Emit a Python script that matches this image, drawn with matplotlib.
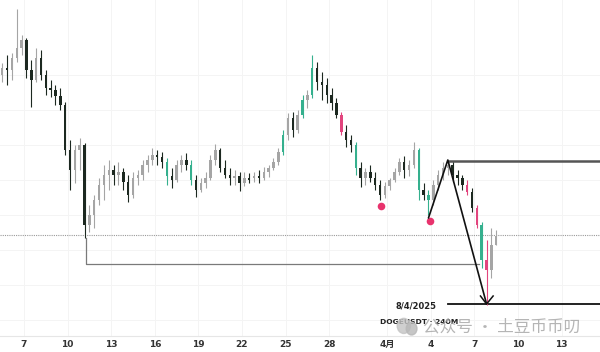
import numpy as np
import pandas as pd
import matplotlib
matplotlib.use("Agg")
import matplotlib.pyplot as plt
import matplotlib.dates as mdates
from matplotlib.patches import Ellipse

plt.rcParams['font.family'] = ['DejaVu Sans', 'Noto Sans CJK SC']

# ---- data: DOGEUSDT candles (8h), price in arbitrary chart units ----
start = "2025-03-05 08:00"
opens = [325, 332, 330, 342, 352, 360, 330, 320, 342, 325,
         312, 310, 304, 295, 250, 230, 250, 255, 175, 185,
         200, 215, 225, 230, 225, 228, 218, 205, 222, 225,
         235, 240, 245, 243, 238, 224, 220, 235, 240, 235,
         220, 210, 217, 222, 240, 250, 232, 225, 222, 224,
         217, 222, 222, 224, 222, 228, 232, 238, 248, 265,
         282, 270, 285, 300, 305, 332, 318, 315, 305, 297,
         285, 268, 260, 255, 232, 222, 228, 222, 215, 205,
         214, 220, 228, 238, 230, 235, 250, 210, 205, 200,
         215, 225, 232, 235, 225, 222, 215, 208, 192, 175,
         140, 130, 155]
highs = [337, 345, 347, 391, 365, 362, 340, 352, 350, 330,
         320, 315, 312, 298, 260, 255, 262, 257, 195, 205,
         222, 235, 240, 235, 238, 232, 225, 228, 230, 240,
         245, 252, 250, 248, 242, 232, 240, 245, 247, 240,
         225, 222, 228, 245, 256, 252, 240, 232, 230, 228,
         228, 227, 228, 230, 233, 235, 242, 252, 270, 287,
         288, 290, 305, 310, 345, 338, 328, 322, 312, 302,
         288, 275, 265, 258, 238, 232, 235, 228, 220, 218,
         222, 232, 242, 244, 240, 258, 252, 217, 210, 220,
         230, 238, 240, 238, 230, 225, 220, 212, 195, 178,
         160, 172, 170]
lows = [318, 315, 320, 338, 345, 322, 293, 318, 320, 305,
        303, 295, 290, 245, 210, 217, 230, 162, 168, 172,
        195, 200, 210, 215, 215, 210, 198, 202, 215, 220,
        228, 235, 235, 232, 215, 212, 218, 228, 230, 215,
        203, 208, 212, 220, 235, 228, 222, 215, 215, 209,
        214, 217, 218, 217, 220, 223, 230, 235, 245, 260,
        263, 267, 282, 292, 302, 310, 300, 297, 290, 282,
        265, 253, 248, 225, 213, 215, 218, 210, 200, 202,
        210, 218, 225, 222, 224, 232, 200, 200, 185, 195,
        210, 220, 225, 218, 215, 210, 205, 188, 172, 132,
        95, 122, 155]
closes = [332, 330, 342, 352, 360, 330, 320, 342, 325, 312,
          310, 304, 295, 250, 230, 250, 255, 175, 185, 200,
          215, 225, 230, 225, 228, 218, 205, 222, 225, 235,
          240, 245, 243, 238, 224, 220, 235, 240, 235, 220,
          210, 217, 222, 240, 250, 232, 225, 222, 224, 217,
          222, 220, 224, 222, 228, 232, 238, 248, 265, 282,
          270, 285, 300, 305, 332, 318, 315, 305, 297, 285,
          268, 260, 255, 232, 222, 228, 222, 215, 205, 214,
          220, 228, 238, 230, 235, 250, 210, 205, 200, 215,
          225, 232, 235, 225, 222, 215, 208, 192, 175, 140,
          130, 155, 164]

tick_dates = ["2025-03-07", "2025-03-10", "2025-03-13", "2025-03-16",
              "2025-03-19", "2025-03-22", "2025-03-25", "2025-03-28",
              "2025-04-01", "2025-04-04", "2025-04-07", "2025-04-10",
              "2025-04-13"]
tick_labels = ["7", "10", "13", "16", "19", "22", "25", "28",
               "4月", "4", "7", "10", "13"]

green_idx = [34, 39, 58, 62, 64, 73, 86, 88, 99]
pink_idx = [70, 96, 98, 100]
dot_idx = [78, 88]          # pink markers under swing lows
support_level = 165         # dotted reference level
range_low_idx = 17          # candle of the March low
trend_idx = [88, 92, 100]   # low -> high -> low

# ---- figure ----
fig = plt.figure(figsize=(6, 3.52), dpi=100)
ax = fig.add_axes([0, 16 / 352, 1, 336 / 352])

times = pd.date_range(start, periods=len(opens), freq="8h")
x = mdates.date2num(times) + 1 / 6
o = np.array(opens, float); h = np.array(highs, float)
l = np.array(lows, float); c = np.array(closes, float)

UP = "#a5a5a5"
DOWN = "#1c2820"
GREEN = "#35b08e"
PINK = "#e2457e"
cols = [UP if ci >= oi else DOWN for oi, ci in zip(o, c)]
for i in green_idx:
    cols[i] = GREEN
for i in pink_idx:
    cols[i] = PINK

ax.vlines(x, l, h, colors=cols, linewidth=0.8, zorder=3)
ax.bar(x, np.maximum(np.abs(c - o), 1.0), bottom=np.minimum(o, c), width=0.17,
       color=cols, linewidth=0, zorder=4)

x0 = mdates.date2num(pd.Timestamp("2025-03-05 08:21"))
x1 = mdates.date2num(pd.Timestamp("2025-04-15 15:20"))
ax.set_xlim(x0, x1)
ax.set_ylim(64, 400)

# grid
ax.set_xticks(mdates.date2num(pd.to_datetime(tick_dates)))
ax.set_xticklabels(tick_labels, fontsize=6.5, fontweight="bold", color="#333333")
ax.tick_params(axis="x", length=0, pad=3)
ax.set_yticks([325, 290, 255, 220, 185, 150, 115, 80])
ax.tick_params(axis="y", length=0, labelleft=False)
ax.grid(True, color="#f4f4f4", linewidth=0.7, zorder=0)
for s in ["top", "right", "left"]:
    ax.spines[s].set_visible(False)
ax.spines["bottom"].set_color("#e6e6e6")

# dotted level
ax.axhline(support_level, color="#9a9a9a", linewidth=0.8, linestyle=(0, (1, 1)), zorder=2)

# range low bracket
xr = x[range_low_idx] + 0.1
lvl = l[range_low_idx] - 26
ax.plot([xr, xr, x[99] - 0.2], [l[range_low_idx], lvl, lvl], color="#7a7a7a",
        linewidth=0.9, zorder=2)

# pink dots
ax.scatter(x[dot_idx] + 0.1, l[dot_idx] - 6, s=30, color="#e8336d", zorder=6, linewidth=0)

# trend lines
a, b, d = trend_idx
tx = [x[a], x[b], x[d]]
ty = [l[a] - 3, h[b], l[d] + 1]
ax.plot(tx, ty, color="#111111", linewidth=1.2, zorder=7, solid_capstyle="round")
ax.plot([tx[2] - 0.42, tx[2], tx[2] + 0.45], [ty[2] + 8, ty[2], ty[2] + 8],
        color="#111111", linewidth=1.1, zorder=7)

# horizontal levels
ax.plot([x[b], x1], [h[b] - 1, h[b] - 1], color="#555555", linewidth=1.8, zorder=2)
ax.plot([x[92], x1], [l[d] + 1, l[d] + 1], color="#111111", linewidth=1.3, zorder=2)
ax.text(x[92] - 0.75, l[d] - 1, "8/4/2025", fontsize=6, fontweight="bold",
        color="#222222", ha="right", va="center", zorder=8)

# symbol label
ax.text(0.633, 0.042, "DOGEUSDT · 240M", transform=ax.transAxes, fontsize=5.4,
        fontweight="bold", color="#222222", ha="left", va="center", zorder=8)

# watermark
ax.add_patch(Ellipse((0.673, 0.03), 0.022, 0.045, transform=ax.transAxes,
                     color="#c4c4c4", alpha=0.8, zorder=9))
ax.add_patch(Ellipse((0.686, 0.022), 0.018, 0.038, transform=ax.transAxes,
                     color="#b8b8b8", alpha=0.8, zorder=9))
ax.text(0.705, 0.026, "公众号 · 土豆币币叨", transform=ax.transAxes, fontsize=12,
        family=["Noto Sans CJK SC", "DejaVu Sans"], color="#a8a8a8", alpha=0.85,
        ha="left", va="center", zorder=9)

fig.savefig("out.png", dpi=100, facecolor="white")
